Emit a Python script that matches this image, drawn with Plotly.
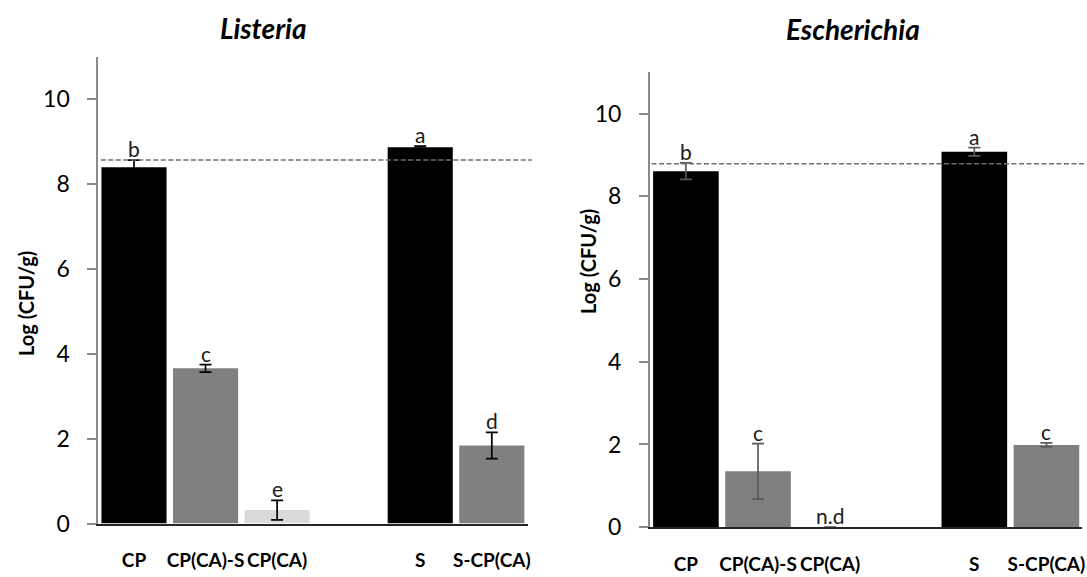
import plotly.graph_objects as go

# ---- data ----
categories = ["CP", "CP(CA)-S", "CP(CA)", " ", "S", "S-CP(CA)"]
bar_colors = ["#000000", "#808080", "#d9d9d9", "#ffffff", "#000000", "#808080"]

listeria_mean = [8.40, 3.66, 0.32, None, 8.87, 1.84]
listeria_err = [0.17, 0.09, 0.23, None, 0.03, 0.31]
listeria_letters = ["b", "c", "e", "", "a", "d"]
listeria_ref = 8.57

escherichia_mean = [8.61, 1.35, 0.0, None, 9.08, 1.99]
escherichia_err = [0.20, 0.67, None, None, 0.10, 0.05]
escherichia_letters = ["b", "c", "n.d", "", "a", "c"]
escherichia_ref = 8.79

y_ticks = [0, 2, 4, 6, 8, 10]
panel_titles = ["Listeria", "Escherichia"]
y_title = "Log (CFU/g)"

FONT = "Lato"

fig = go.Figure()

panels = [
    dict(mean=listeria_mean, err=listeria_err, letters=listeria_letters, ref=listeria_ref,
         xa="x", ya="y", errcolor="#000000", xdom=[0.0906, 0.4867], ydom=[0.0716, 0.899],
         title_x=0.2429, title_y=0.9497, yt_x=0.024, yt_y=0.461, ref_x=[0.093, 0.4906]),
    dict(mean=escherichia_mean, err=escherichia_err, letters=escherichia_letters, ref=escherichia_ref,
         xa="x2", ya="y2", errcolor="#595959", xdom=[0.5995, 0.9986], ydom=[0.0653, 0.8718],
         title_x=0.7866, title_y=0.948, yt_x=0.5425, yt_y=0.5355, ref_x=[0.601, 1.0]),
]

annotations = []
shapes = []
for i, p in enumerate(panels):
    fig.add_trace(go.Bar(
        x=categories, y=p["mean"], xaxis=p["xa"], yaxis=p["ya"],
        marker=dict(color=bar_colors, line=dict(width=0)),
        width=0.91,
        error_y=dict(type="data", array=p["err"], visible=True,
                     color=p["errcolor"], thickness=1.7, width=6),
        showlegend=False, hoverinfo="skip",
    ))
    for c, m, e, t in zip(categories, p["mean"], p["err"], p["letters"]):
        if not t:
            continue
        annotations.append(dict(
            x=c, y=(m or 0) + (e or 0), xref=p["xa"], yref=p["ya"],
            text=t, showarrow=False, yanchor="bottom", yshift=-3,
            font=dict(family=FONT, size=21, color="#1a1a1a"),
        ))
    annotations.append(dict(
        x=p["title_x"], y=p["title_y"], xref="paper", yref="paper",
        text="<b><i>%s</i></b>" % panel_titles[i], showarrow=False,
        xanchor="center", yanchor="middle",
        font=dict(family=FONT, size=28, color="#000000"),
    ))
    annotations.append(dict(
        x=p["yt_x"], y=p["yt_y"], xref="paper", yref="paper",
        text="<b>%s</b>" % y_title, showarrow=False, textangle=-90,
        xanchor="center", yanchor="middle",
        font=dict(family=FONT, size=20, color="#000000"),
    ))
    shapes.append(dict(
        type="line", xref="paper", yref=p["ya"],
        x0=p["ref_x"][0], x1=p["ref_x"][1], y0=p["ref"], y1=p["ref"],
        line=dict(color="#6e6e6e", width=1.6, dash="5px,2.5px"),
    ))

xaxis_common = dict(
    type="category", range=[-0.5, 5.5], showline=True, linecolor="#262626", linewidth=1.6,
    ticks="", showgrid=False, zeroline=False, ticklabelstandoff=19,
    tickfont=dict(family=FONT, size=19, color="#000000", weight="bold"),
    fixedrange=True,
)
yaxis_common = dict(
    range=[0, 11], tickvals=y_ticks, showline=True, linecolor="#8a8a8a", linewidth=1.6,
    ticks="outside", ticklen=9, tickwidth=1.6, tickcolor="#8a8a8a",
    showgrid=False, zeroline=False, ticklabelstandoff=13,
    tickfont=dict(family=FONT, size=23, color="#000000"),
    fixedrange=True,
)

fig.update_layout(
    width=1087, height=577,
    margin=dict(l=0, r=0, t=0, b=0),
    paper_bgcolor="white", plot_bgcolor="white",
    bargap=0.09,
    xaxis=dict(xaxis_common, domain=panels[0]["xdom"], anchor="y"),
    yaxis=dict(yaxis_common, domain=panels[0]["ydom"], anchor="x"),
    xaxis2=dict(xaxis_common, domain=panels[1]["xdom"], anchor="y2"),
    yaxis2=dict(yaxis_common, domain=panels[1]["ydom"], anchor="x2"),
    annotations=annotations,
    shapes=shapes,
    font=dict(family=FONT),
)

fig.write_html("out.html")
